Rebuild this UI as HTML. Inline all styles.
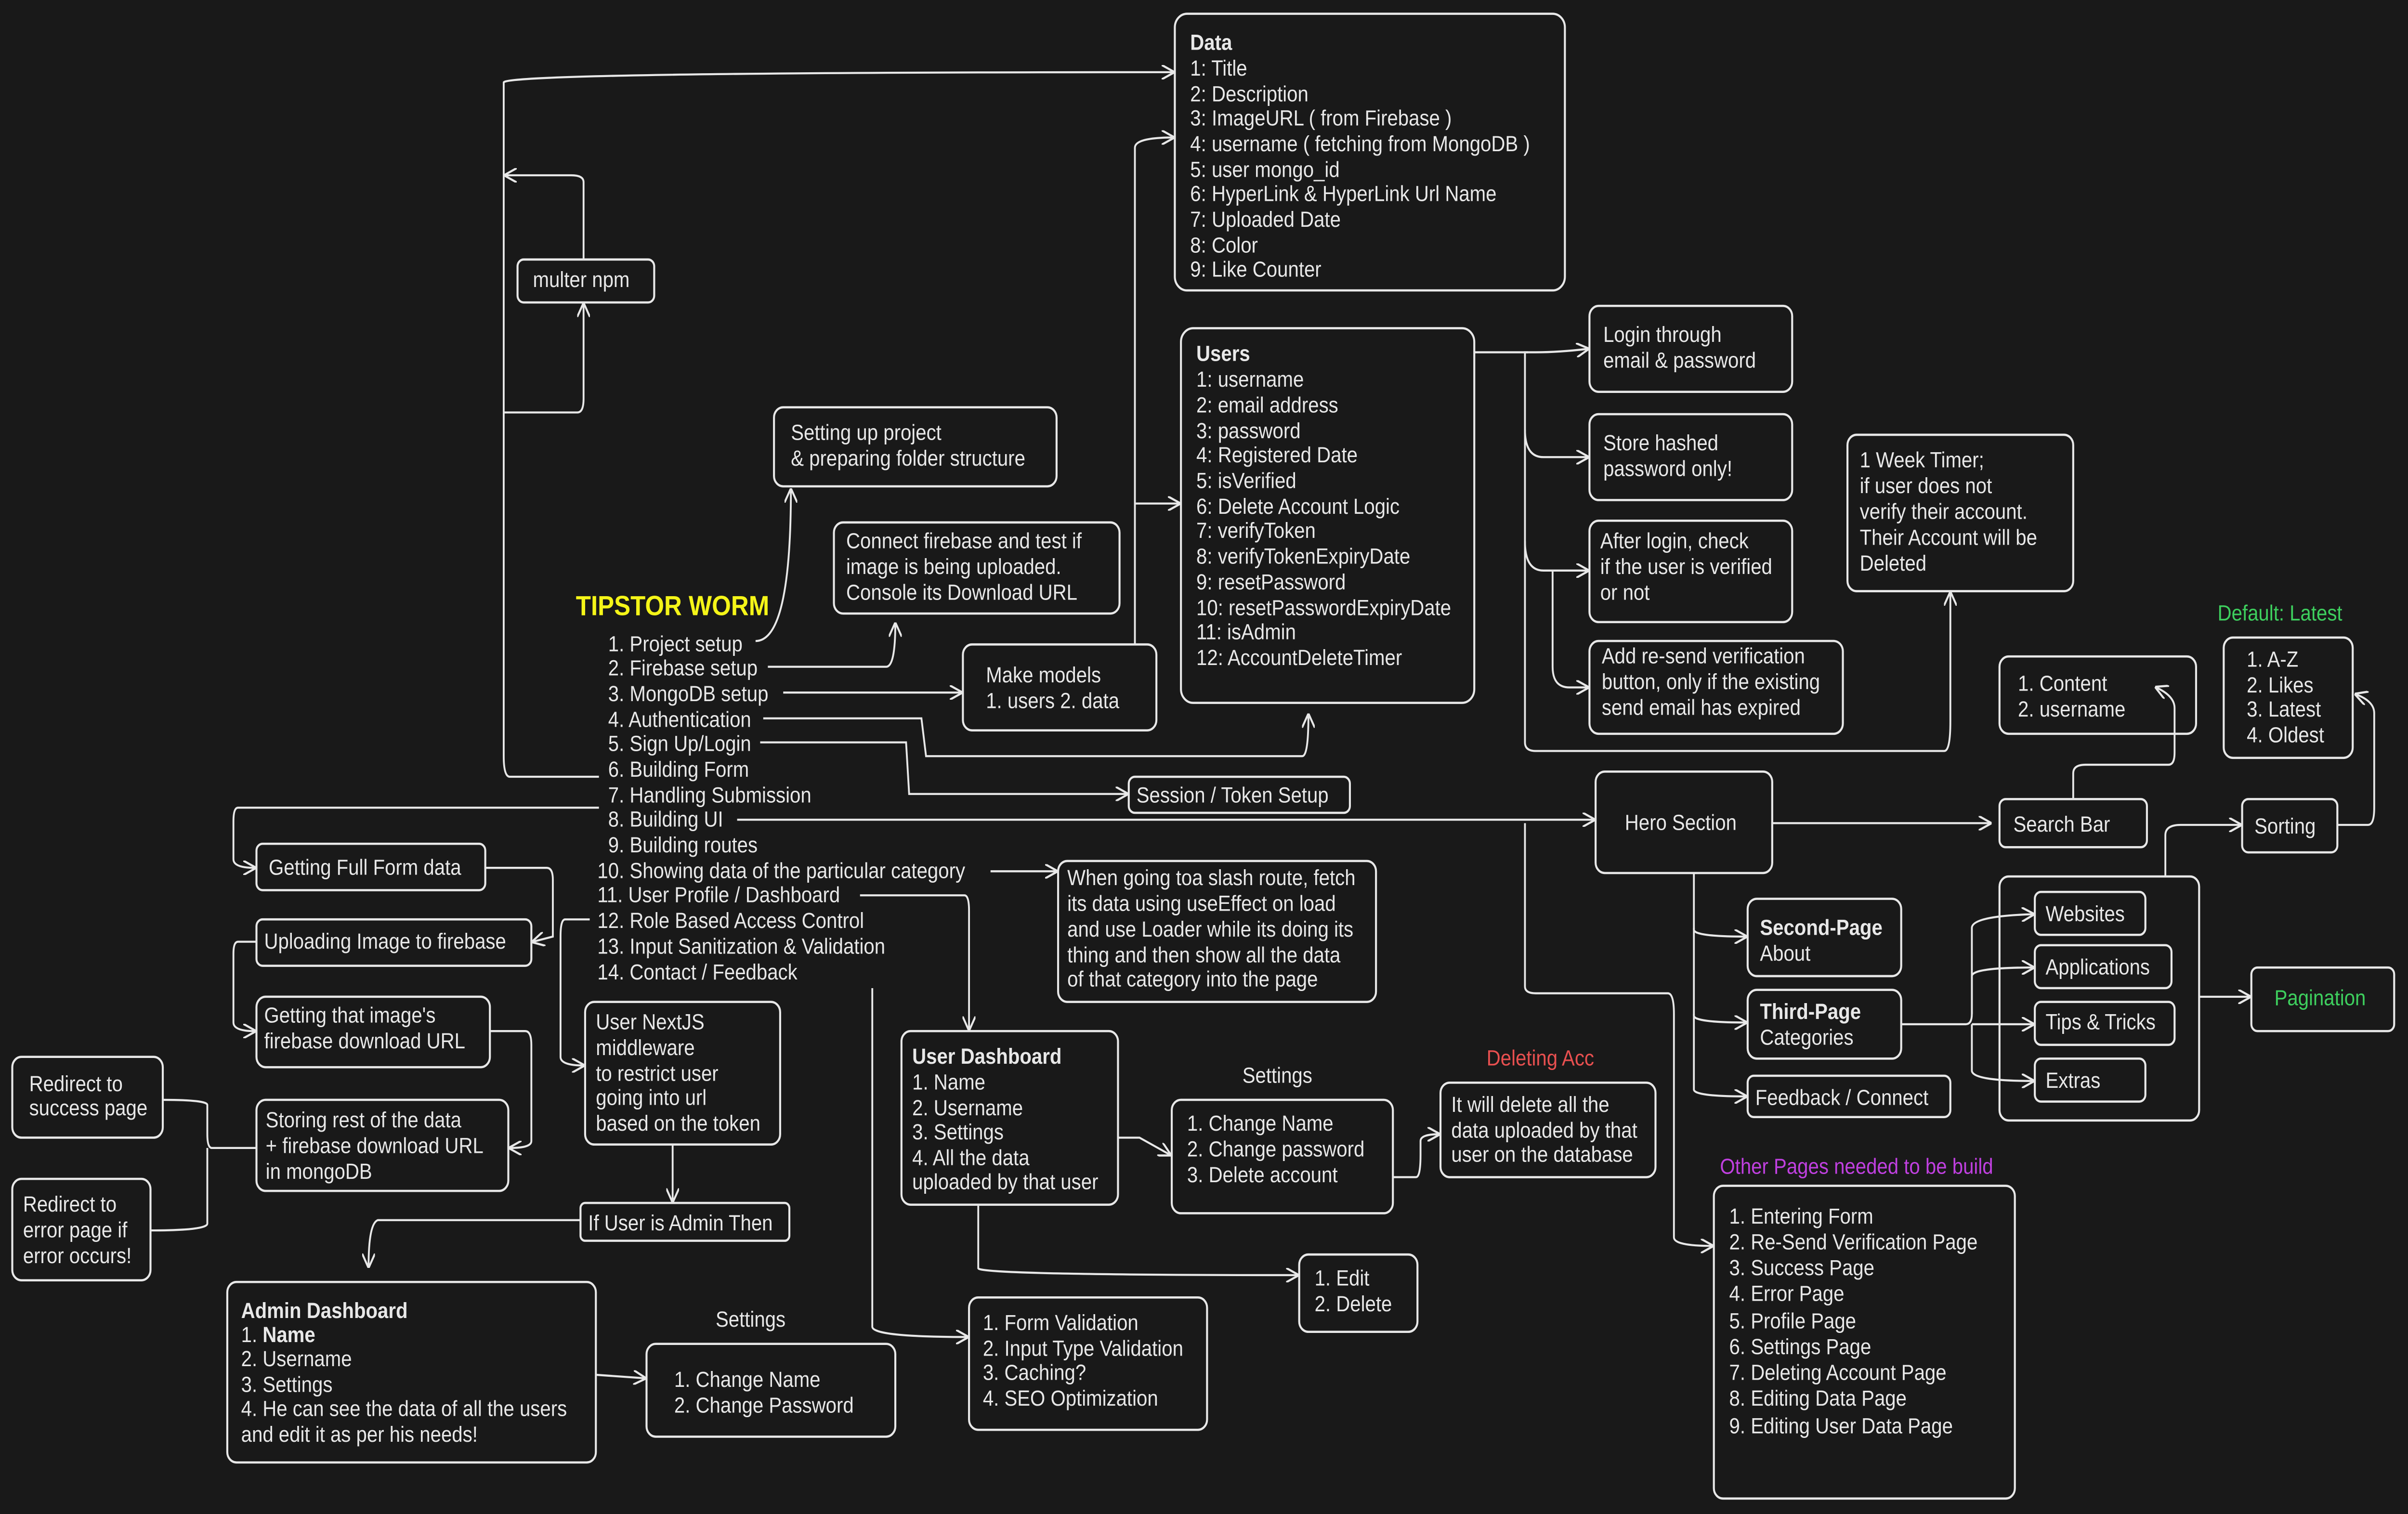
<!DOCTYPE html>
<html><head><meta charset="utf-8"><style>
html,body{margin:0;padding:0;background:#191919;overflow:hidden;width:100%;height:100%;}
svg{display:block;width:100vw;height:100vh;}
text{font-family:"Liberation Sans",Arial,sans-serif;font-size:12.6px;fill:#e8e8e8;}
.b{font-weight:bold}
rect{fill:none;stroke:#e8e8e8;stroke-width:1.3}
path{fill:none;stroke:#e8e8e8;stroke-width:1.2}
</style></head><body>
<svg viewBox="0 0 1568 881" preserveAspectRatio="none" xmlns="http://www.w3.org/2000/svg">
<defs><marker id="a" viewBox="0 0 10 10" refX="9" refY="5" markerWidth="7" markerHeight="7" orient="auto-start-reverse"><path d="M0,0 L10,5 L0,10" style="fill:none;stroke:#e8e8e8;stroke-width:1.5"/></marker></defs>
<rect x="0" y="0" width="1568" height="881" style="fill:#191919;stroke:none"/>
<g>
<rect x="765" y="8" width="254" height="161" rx="8"/>
<text x="775" y="29" class="b">Data</text>
<text x="775" y="44">1: Title</text><text x="775" y="59">2: Description</text><text x="775" y="73">3: ImageURL ( from Firebase )</text><text x="775" y="88">4: username ( fetching from MongoDB )</text><text x="775" y="103">5: user mongo_id</text><text x="775" y="117">6: HyperLink &amp; HyperLink Url Name</text><text x="775" y="132">7: Uploaded Date</text><text x="775" y="147">8: Color</text><text x="775" y="161">9: Like Counter</text>

<rect x="769" y="191" width="191" height="218" rx="8"/>
<text x="779" y="210" class="b">Users</text>
<text x="779" y="225">1: username</text><text x="779" y="240">2: email address</text><text x="779" y="255">3: password</text><text x="779" y="269">4: Registered Date</text><text x="779" y="284">5: isVerified</text><text x="779" y="299">6: Delete Account Logic</text><text x="779" y="313">7: verifyToken</text><text x="779" y="328">8: verifyTokenExpiryDate</text><text x="779" y="343">9: resetPassword</text><text x="779" y="358">10: resetPasswordExpiryDate</text><text x="779" y="372">11: isAdmin</text><text x="779" y="387">12: AccountDeleteTimer</text>

<rect x="1035" y="178" width="132" height="50" rx="6"/><text x="1044" y="199">Login through</text><text x="1044" y="214">email &amp; password</text>
<rect x="1035" y="241" width="132" height="50" rx="6"/><text x="1044" y="262">Store hashed</text><text x="1044" y="277">password only!</text>
<rect x="1035" y="303" width="132" height="59" rx="6"/><text x="1042" y="319">After login, check</text><text x="1042" y="334">if the user is verified</text><text x="1042" y="349">or not</text>
<rect x="1035" y="373" width="165" height="54" rx="6"/><text x="1043" y="386">Add re-send verification</text><text x="1043" y="401">button, only if the existing</text><text x="1043" y="416">send email has expired</text>
<rect x="1203" y="253" width="147" height="91" rx="6"/><text x="1211" y="272">1 Week Timer;</text><text x="1211" y="287">if user does not</text><text x="1211" y="302">verify their account.</text><text x="1211" y="317">Their Account will be</text><text x="1211" y="332">Deleted</text>

<rect x="504" y="237" width="184" height="46" rx="6"/><text x="515" y="256">Setting up project</text><text x="515" y="271">&amp; preparing folder structure</text>
<rect x="543" y="304" width="186" height="53" rx="6"/><text x="551" y="319">Connect firebase and test if</text><text x="551" y="334">image is being uploaded.</text><text x="551" y="349">Console its Download URL</text>
<rect x="627" y="375" width="126" height="50" rx="6"/><text x="642" y="397">Make models</text><text x="642" y="412">1. users 2. data</text>
<rect x="337" y="151" width="89" height="25" rx="4"/><text x="347" y="167">multer npm</text>
<rect x="735" y="452" width="144" height="21" rx="4"/><text x="740" y="467">Session / Token Setup</text>

<text x="375" y="358" class="b" style="fill:#f5f518;font-size:16px">TIPSTOR WORM</text>
<text x="396" y="379">1. Project setup</text><text x="396" y="393">2. Firebase setup</text><text x="396" y="408">3. MongoDB setup</text><text x="396" y="423">4. Authentication</text><text x="396" y="437">5. Sign Up/Login</text><text x="396" y="452">6. Building Form</text><text x="396" y="467">7. Handling Submission</text><text x="396" y="481">8. Building UI</text><text x="396" y="496">9. Building routes</text><text x="389" y="511">10. Showing data of the particular category</text><text x="389" y="525">11. User Profile / Dashboard</text><text x="389" y="540">12. Role Based Access Control</text><text x="389" y="555">13. Input Sanitization &amp; Validation</text><text x="389" y="570">14. Contact / Feedback</text>

<rect x="1039" y="449" width="115" height="59" rx="6"/><text x="1058" y="483">Hero Section</text>
<rect x="1302" y="465" width="96" height="28" rx="4"/><text x="1311" y="484">Search Bar</text>
<rect x="1302" y="382" width="128" height="45" rx="6"/><text x="1314" y="402">1. Content</text><text x="1314" y="417">2. username</text>
<rect x="1448" y="371" width="84" height="70" rx="6"/><text x="1463" y="388">1. A-Z</text><text x="1463" y="403">2. Likes</text><text x="1463" y="417">3. Latest</text><text x="1463" y="432">4. Oldest</text>
<text x="1444" y="361" style="fill:#3ecf5e">Default: Latest</text>
<rect x="1460" y="465" width="62" height="31" rx="4"/><text x="1468" y="485">Sorting</text>
<rect x="1302" y="510" width="130" height="142" rx="6"/>
<rect x="1325" y="519" width="72" height="25" rx="4"/><text x="1332" y="536">Websites</text>
<rect x="1325" y="550" width="89" height="25" rx="4"/><text x="1332" y="567">Applications</text>
<rect x="1325" y="583" width="91" height="25" rx="4"/><text x="1332" y="599">Tips &amp; Tricks</text>
<rect x="1325" y="616" width="72" height="25" rx="4"/><text x="1332" y="633">Extras</text>
<rect x="1466" y="563" width="93" height="37" rx="4"/><text x="1481" y="585" style="fill:#3ecf5e">Pagination</text>
<rect x="1138" y="523" width="100" height="45" rx="6"/><text x="1146" y="544" class="b">Second-Page</text><text x="1146" y="559">About</text>
<rect x="1138" y="576" width="100" height="40" rx="6"/><text x="1146" y="593" class="b">Third-Page</text><text x="1146" y="608">Categories</text>
<rect x="1138" y="626" width="132" height="24" rx="4"/><text x="1143" y="643">Feedback / Connect</text>
<text x="1120" y="683" style="fill:#c040e0">Other Pages needed to be build</text>
<rect x="1116" y="690" width="196" height="182" rx="6"/>
<text x="1126" y="712">1. Entering Form</text><text x="1126" y="727">2. Re-Send Verification Page</text><text x="1126" y="742">3. Success Page</text><text x="1126" y="757">4. Error Page</text><text x="1126" y="773">5. Profile Page</text><text x="1126" y="788">6. Settings Page</text><text x="1126" y="803">7. Deleting Account Page</text><text x="1126" y="818">8. Editing Data Page</text><text x="1126" y="834">9. Editing User Data Page</text>

<rect x="689" y="501" width="207" height="82" rx="6"/><text x="695" y="515">When going toa slash route, fetch</text><text x="695" y="530">its data using useEffect on load</text><text x="695" y="545">and use Loader while its doing its</text><text x="695" y="560">thing and then show all the data</text><text x="695" y="574">of that category into the page</text>
<rect x="381" y="583" width="127" height="83" rx="6"/><text x="388" y="599">User NextJS</text><text x="388" y="614">middleware</text><text x="388" y="629">to restrict user</text><text x="388" y="643">going into url</text><text x="388" y="658">based on the token</text>
<rect x="378" y="700" width="136" height="22" rx="3"/><text x="383" y="716">If User is Admin Then</text>
<rect x="587" y="600" width="141" height="101" rx="6"/><text x="594" y="619" class="b">User Dashboard</text><text x="594" y="634">1. Name</text><text x="594" y="649">2. Username</text><text x="594" y="663">3. Settings</text><text x="594" y="678">4. All the data</text><text x="594" y="692">uploaded by that user</text>
<text x="809" y="630">Settings</text>
<rect x="763" y="640" width="144" height="66" rx="6"/><text x="773" y="658">1. Change Name</text><text x="773" y="673">2. Change password</text><text x="773" y="688">3. Delete account</text>
<text x="968" y="620" style="fill:#e85050">Deleting Acc</text>
<rect x="938" y="630" width="140" height="55" rx="6"/><text x="945" y="647">It will delete all the</text><text x="945" y="662">data uploaded by that</text><text x="945" y="676">user on the database</text>
<rect x="846" y="730" width="77" height="45" rx="6"/><text x="856" y="748">1. Edit</text><text x="856" y="763">2. Delete</text>
<rect x="631" y="755" width="155" height="77" rx="6"/><text x="640" y="774">1. Form Validation</text><text x="640" y="789">2. Input Type Validation</text><text x="640" y="803">3. Caching?</text><text x="640" y="818">4. SEO Optimization</text>
<rect x="148" y="746" width="240" height="105" rx="6"/><text x="157" y="767" class="b">Admin Dashboard</text><text x="157" y="781">1. <tspan class="b">Name</tspan></text><text x="157" y="795">2. Username</text><text x="157" y="810">3. Settings</text><text x="157" y="824">4. He can see the data of all the users</text><text x="157" y="839">and edit it as per his needs!</text>
<text x="466" y="772">Settings</text>
<rect x="421" y="782" width="162" height="54" rx="6"/><text x="439" y="807">1. Change Name</text><text x="439" y="822">2. Change Password</text>
<rect x="167" y="491" width="149" height="27" rx="4"/><text x="175" y="509">Getting Full Form data</text>
<rect x="167" y="535" width="179" height="27" rx="4"/><text x="172" y="552">Uploading Image to firebase</text>
<rect x="167" y="580" width="152" height="41" rx="6"/><text x="172" y="595">Getting that image's</text><text x="172" y="610">firebase download URL</text>
<rect x="167" y="640" width="164" height="53" rx="6"/><text x="173" y="656">Storing rest of the data</text><text x="173" y="671">+ firebase download URL</text><text x="173" y="686">in mongoDB</text>
<rect x="8" y="615" width="98" height="47" rx="6"/><text x="19" y="635">Redirect to</text><text x="19" y="649">success page</text>
<rect x="8" y="686" width="90" height="59" rx="6"/><text x="15" y="705">Redirect to</text><text x="15" y="720">error page if</text><text x="15" y="735">error occurs!</text>
</g>
<g>
<path d="M492,373 Q515,373 515,285" marker-end="url(#a)"/>
<path d="M500,388 L577,388 Q583,388 583,363" marker-end="url(#a)"/>
<path d="M510,403 L626,403" marker-end="url(#a)"/>
<path d="M497,418 L600,418 L603,440 L848,440 Q852,440 852,416" marker-end="url(#a)"/>
<path d="M495,432 L590,432 L592,462 L734,462" marker-end="url(#a)"/>
<path d="M480,477 L1038,477" marker-end="url(#a)"/>
<path d="M645,507 L688,507" marker-end="url(#a)"/>
<path d="M560,521 L628,521 Q631,521 631,530 L631,599" marker-end="url(#a)"/>
<path d="M390,470 L155,470 Q152,470 152,478 L152,500 Q152,505 166,505" marker-end="url(#a)"/>
<path d="M316,505 L356,505 Q360,505 360,512 L360,545 L347,548" marker-end="url(#a)"/>
<path d="M167,548 L155,548 Q152,548 152,555 L152,595 Q152,600 166,600" marker-end="url(#a)"/>
<path d="M319,600 L342,600 Q346,600 346,608 L346,664 Q346,668 332,668" marker-end="url(#a)"/>
<path d="M384,535 L368,535 Q365,535 365,545 L365,615 Q365,620 380,620" marker-end="url(#a)"/>
<path d="M568,575 L568,772 Q568,778 630,778" marker-end="url(#a)"/>
<path d="M438,666 L438,699" marker-end="url(#a)"/>
<path d="M378,710 L246,710 Q240,712 240,737" marker-end="url(#a)"/>
<path d="M388,800 L420,802" marker-end="url(#a)"/>
<path d="M728,662 L742,662 Q748,665 762,672" marker-end="url(#a)"/>
<path d="M637,701 L637,738 Q637,742 845,742" marker-end="url(#a)"/>
<path d="M907,685 L922,685 Q925,685 925,672 L925,664 Q925,660 937,660" marker-end="url(#a)"/>
<path d="M167,668 L138,668 Q135,668 135,660 L135,643 Q135,640 106,640"/>
<path d="M135,668 L135,712 Q135,716 98,716"/>
<path d="M390,452 L332,452 Q328,452 328,440 L328,48 Q328,42 764,42" marker-end="url(#a)"/>
<path d="M328,240 L376,240 Q380,240 380,232 L380,177" marker-end="url(#a)"/>
<path d="M380,151 L380,106 Q380,102 372,102 L329,102" marker-end="url(#a)"/>
<path d="M739,375 L739,86 Q739,80 764,80" marker-end="url(#a)"/>
<path d="M739,293 L768,293" marker-end="url(#a)"/>
<path d="M960,205 L1000,205 Q1015,205 1034,203" marker-end="url(#a)"/>
<path d="M993,250 Q993,266 1005,266 L1034,266" marker-end="url(#a)"/>
<path d="M993,315 Q993,332 1005,332 L1034,332" marker-end="url(#a)"/>
<path d="M1011,332 L1011,388 Q1011,400 1022,400 L1034,400" marker-end="url(#a)"/>
<path d="M995,205 L993,205 L993,432 Q993,437 1000,437 L1266,437 Q1270,437 1270,420 L1270,345" marker-end="url(#a)"/>
<path d="M1154,479 L1296,479" marker-end="url(#a)"/>
<path d="M1103,508 L1103,541 Q1103,545 1137,545" marker-end="url(#a)"/>
<path d="M1103,540 L1103,591 Q1103,595 1137,595" marker-end="url(#a)"/>
<path d="M1103,590 L1103,634 Q1103,638 1137,638" marker-end="url(#a)"/>
<path d="M993,479 L993,574 Q993,578 1000,578 L1086,578 Q1090,578 1090,590 L1090,720 Q1090,725 1115,725" marker-end="url(#a)"/>
<path d="M1350,465 L1350,450 Q1350,445 1358,445 L1412,445 Q1416,445 1416,438 L1416,412 Q1416,405 1404,400" marker-end="url(#a)"/>
<path d="M1410,510 L1410,486 Q1410,480 1420,480 L1459,480" marker-end="url(#a)"/>
<path d="M1522,480 L1542,480 Q1546,480 1546,470 L1546,415 Q1546,408 1534,404" marker-end="url(#a)"/>
<path d="M1432,580 L1465,580" marker-end="url(#a)"/>
<path d="M1238,596 L1280,596 Q1284,596 1284,590 L1284,540 Q1284,533 1324,532" marker-end="url(#a)"/>
<path d="M1284,590 L1284,568 Q1284,563 1324,563" marker-end="url(#a)"/>
<path d="M1284,596 L1324,596" marker-end="url(#a)"/>
<path d="M1284,596 L1284,623 Q1284,629 1324,629" marker-end="url(#a)"/>
</g>
</svg>
</body></html>
